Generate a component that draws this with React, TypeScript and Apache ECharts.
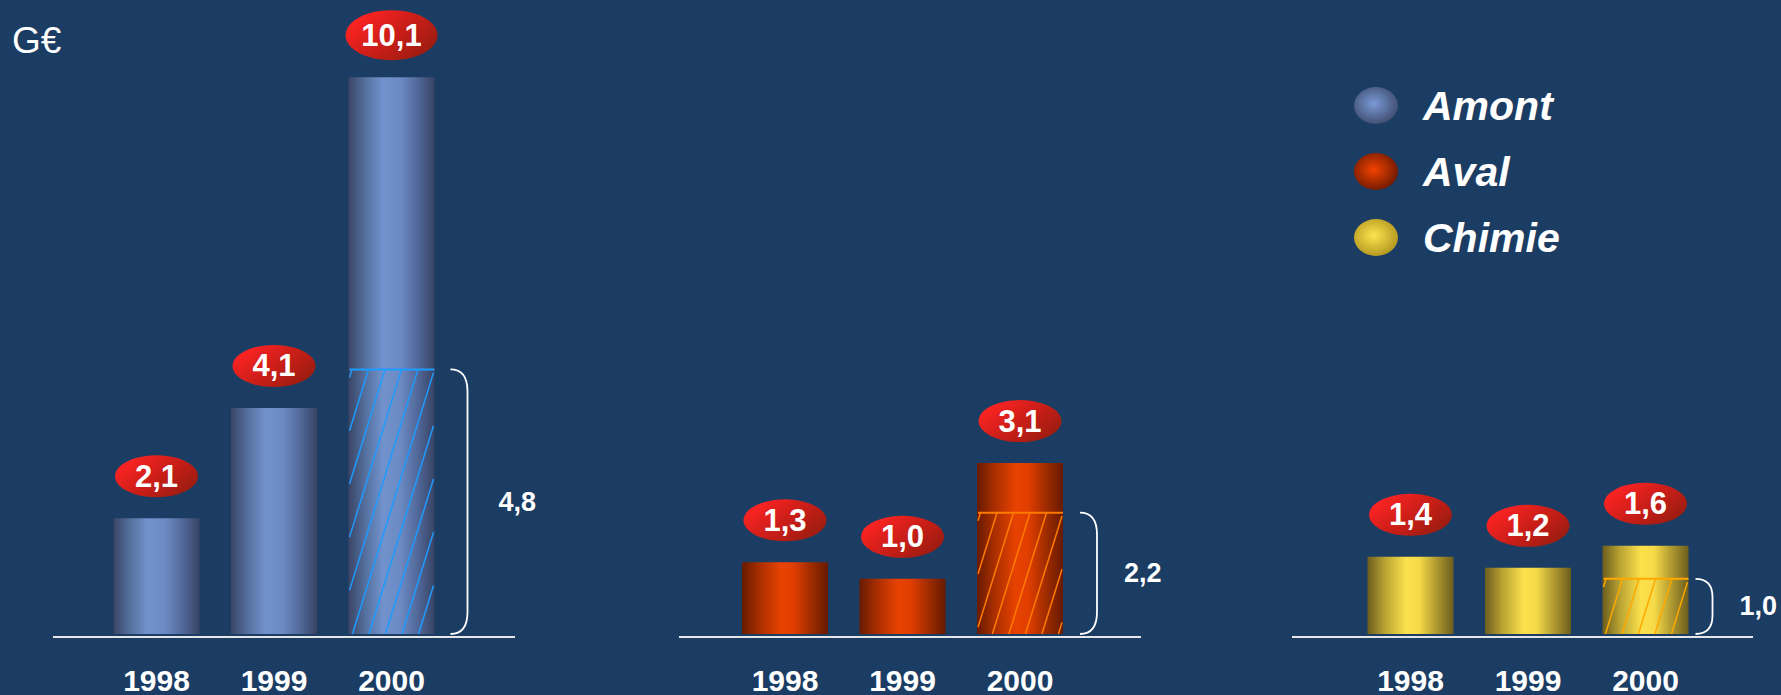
import React, { useEffect, useRef } from 'react';
import * as echarts from 'echarts';

// ---------- data ----------
const years = ['1998', '1999', '2000'];
const seriesNames = ['Amont', 'Aval', 'Chimie'];
const amont = [2.1, 4.1, 10.1];
const aval = [1.3, 1.0, 3.1];
const chimie = [1.4, 1.2, 1.6];
const hatchYear = '2000';
const amontHatch = [4.8];
const avalHatch = [2.2];
const chimieHatch = [1.0];
const unitLabel = 'G€';

// ---------- styles ----------
const BG = '#1B3D63';
const FONT = "'Liberation Sans', Arial, sans-serif";
const BAR_W = 86;
const GRID_TOP = 27.6;
const GRID_H = 609.4;
const Y_MAX = 11;
const GRID_LEFTS = [97.75, 726.25, 1351.75];
const GRID_W = 352.5;
const BASELINES = [
  [53, 515],
  [679, 1141],
  [1292, 1753],
];

const lin = (stops: [number, string][]) =>
  new echarts.graphic.LinearGradient(0, 0, 1, 0, stops.map(([offset, color]) => ({ offset, color })));
const rad = (inner: string, outer: string) =>
  new echarts.graphic.RadialGradient(0.45, 0.45, 0.6, [
    { offset: 0, color: inner },
    { offset: 1, color: outer },
  ]);

const barFills = [
  lin([[0, '#394566'], [0.2, '#56719F'], [0.4, '#7192CC'], [0.6, '#6C8BC4'], [0.8, '#52699A'], [1, '#374364']]),
  lin([[0, '#671A00'], [0.2, '#A82E00'], [0.45, '#E84200'], [0.6, '#E03E00'], [0.8, '#A02C00'], [1, '#671A00']]),
  lin([[0, '#6C5D1E'], [0.2, '#B8A232'], [0.45, '#FCE14C'], [0.6, '#F6DA48'], [0.8, '#B09A30'], [1, '#6C5D1E']]),
];
const legendFills = [rad('#7A9AD6', '#3E4A6C'), rad('#F44200', '#6A1800'), rad('#FCE44E', '#B0941E')];
const hatchColors = ['#1E9BFF', '#FF7A00', '#FFA800'];
const bracketGaps = [16, 17, 7];
const labelGaps = [31, 27, 27];

const redEllipse = new echarts.graphic.LinearGradient(0.05, 0.2, 0.95, 0.8, [
  { offset: 0, color: '#FF2424' },
  { offset: 0.5, color: '#CC1E18' },
  { offset: 1, color: '#9A1C10' },
]);

const fmt = (v: number) => v.toFixed(1).replace('.', ',');

const makeHatch = (color: string, gap: number, labelGap: number) => (params: any, api: any) => {
  const cat = api.value(0);
  const v = api.value(1);
  const top = api.coord([cat, v]);
  const base = api.coord([cat, 0]);
  const cx = base[0];
  const x0 = cx - BAR_W / 2;
  const x1 = cx + BAR_W / 2;
  const yT = top[1];
  const yB = base[1];
  const H = yB - yT;
  const k = 0.31;
  const step = 16.5;
  const children: any[] = [];
  const cStart = x1 - k * H;
  const nMin = Math.floor((x0 - k * H - cStart) / step);
  const nMax = Math.ceil((x1 - cStart) / step);
  for (let n = nMin; n <= nMax; n++) {
    const c = cStart + n * step;
    const tmin = Math.max(0, (x0 + 1 - c) / k);
    const tmax = Math.min(H, (x1 - 1 - c) / k);
    if (tmax - tmin > 2) {
      children.push({
        type: 'line',
        shape: { x1: c + k * tmin, y1: yB - tmin, x2: c + k * tmax, y2: yB - tmax },
        style: { stroke: color, lineWidth: 1.5 },
      });
    }
  }
  children.push({
    type: 'line',
    shape: { x1: x0 + 1, y1: yT, x2: x1, y2: yT },
    style: { stroke: color, lineWidth: 2 },
  });
  const bx0 = x1 + gap;
  const bw = 17;
  const r = Math.min(22, H / 3);
  children.push({
    type: 'path',
    shape: {
      pathData: `M${bx0},${yT} Q${bx0 + bw},${yT} ${bx0 + bw},${yT + r} L${bx0 + bw},${yB - r} Q${bx0 + bw},${yB} ${bx0},${yB}`,
    },
    style: { stroke: '#FFFFFF', lineWidth: 1.8, fill: 'none' },
  });
  children.push({
    type: 'text',
    x: bx0 + bw + labelGap,
    y: (yT + yB) / 2,
    style: {
      text: fmt(v),
      fill: '#FFFFFF',
      fontSize: 27,
      fontWeight: 'bold',
      fontFamily: FONT,
      align: 'left',
      verticalAlign: 'middle',
    },
  });
  return { type: 'group', children };
};

const values = [amont, aval, chimie];
const hatches = [amontHatch, avalHatch, chimieHatch];

const option: any = {
  animation: false,
  backgroundColor: BG,
  title: {
    text: unitLabel,
    left: 12,
    top: 22,
    padding: 0,
    textStyle: { color: '#FFFFFF', fontSize: 37, fontWeight: 'normal', fontFamily: FONT },
  },
  legend: {
    orient: 'vertical',
    left: 1354,
    top: 85,
    padding: 0,
    itemWidth: 44,
    itemHeight: 37,
    itemGap: 25,
    symbolKeepAspect: false,
    selectedMode: false,
    icon: 'path://M0,50 A50,50 0 1,1 100,50 A50,50 0 1,1 0,50 Z',
    textStyle: {
      color: '#FFFFFF',
      fontSize: 41,
      fontWeight: 'bold',
      fontStyle: 'italic',
      fontFamily: FONT,
      padding: [0, 0, 0, 20],
    },
    data: seriesNames.map((name, i) => ({ name, itemStyle: { color: legendFills[i], borderWidth: 0 } })),
  },
  grid: GRID_LEFTS.map((left) => ({ left, top: GRID_TOP, width: GRID_W, height: GRID_H })),
  xAxis: GRID_LEFTS.map((_, i) => ({
    type: 'category',
    gridIndex: i,
    data: years,
    axisLine: { show: false },
    axisTick: { show: false },
    axisLabel: {
      color: '#FFFFFF',
      fontSize: 30,
      fontWeight: 'bold',
      fontFamily: FONT,
      margin: 31,
    },
  })),
  yAxis: GRID_LEFTS.map((_, i) => ({
    type: 'value',
    gridIndex: i,
    min: 0,
    max: Y_MAX,
    show: false,
    splitLine: { show: false },
  })),
  graphic: BASELINES.map(([a, b]) => ({
    type: 'line',
    shape: { x1: a, y1: GRID_TOP + GRID_H, x2: b, y2: GRID_TOP + GRID_H },
    style: { stroke: '#E6E6E6', lineWidth: 2 },
    z: 10,
  })),
  series: [
    ...seriesNames.map((name, i) => ({
      name,
      type: 'bar',
      xAxisIndex: i,
      yAxisIndex: i,
      barWidth: BAR_W,
      data: values[i],
      itemStyle: { color: barFills[i] },
      emphasis: { disabled: true },
      z: 2,
    })),
    ...seriesNames.map((name, i) => ({
      name: name + ' hatch',
      type: 'custom',
      xAxisIndex: i,
      yAxisIndex: i,
      clip: false,
      silent: true,
      data: hatches[i].map((v) => [hatchYear, v]),
      renderItem: makeHatch(hatchColors[i], bracketGaps[i], labelGaps[i]),
      z: 3,
    })),
    ...seriesNames.map((name, i) => ({
      name: name + ' value',
      type: 'scatter',
      xAxisIndex: i,
      yAxisIndex: i,
      clip: false,
      silent: true,
      data: values[i],
      symbol: 'circle',
      symbolSize: (v: number) => (v >= 10 ? [92, 50] : [83, 42]),
      symbolOffset: [0, -42],
      itemStyle: { color: redEllipse, opacity: 1 },
      label: {
        show: true,
        position: 'inside',
        formatter: (p: any) => fmt(p.value),
        color: '#FFFFFF',
        opacity: 1,
        fontSize: 31,
        fontWeight: 'bold',
        fontFamily: FONT,
      },
      z: 4,
    })),
  ],
};

export default function App() {
  const ref = useRef<HTMLDivElement>(null);
  useEffect(() => {
    document.body.style.margin = '0';
    document.body.style.background = BG;
    const chart = echarts.init(ref.current as HTMLDivElement, null, { renderer: 'svg' });
    chart.setOption(option);
    return () => chart.dispose();
  }, []);
  return <div ref={ref} style={{ width: 1781, height: 695 }} />;
}
